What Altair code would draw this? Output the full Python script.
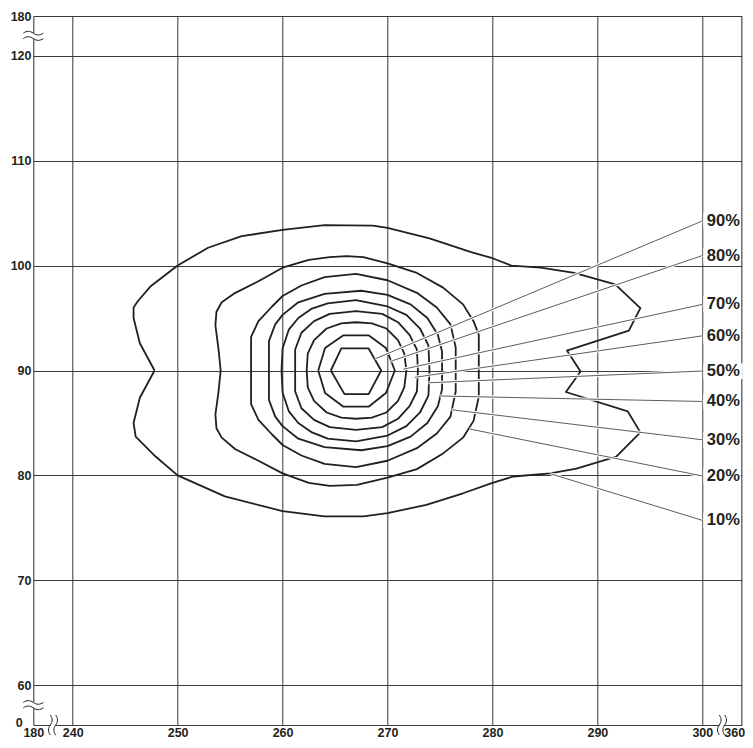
import altair as alt
import pandas as pd

# ---------------- data ----------------
X_DOMAIN = [180, 240, 300, 360]
Y_DOMAIN = [0, 60, 120, 180]
X_TICKS = [180, 240, 250, 260, 270, 280, 290, 300, 360]
Y_TICKS = [0, 60, 70, 80, 90, 100, 110, 120, 180]

# contour lines (closed), traced clockwise from the left crossing of y = 90
C10_X = [247.8, 246.4, 245.8, 245.8, 246.2, 247.4, 250.0, 252.9, 256.1, 260.0, 264.0, 268.6, 270.0,
         274.0, 277.9, 280.0, 281.8, 284.6, 287.8, 291.7, 294.1, 293.0, 287.1, 288.4, 287.0, 292.9,
         294.1, 291.8, 288.0, 285.5, 282.0, 280.0, 277.2, 273.7, 270.0, 267.7, 264.0, 260.0, 254.5,
         250.0, 247.9, 246.0, 245.8, 246.4, 247.8]
C10_Y = [90.0, 92.6, 95.0, 96.0, 96.6, 98.0, 100.0, 101.7, 102.8, 103.4, 103.85, 103.8, 103.6,
         102.6, 101.3, 100.7, 100.0, 99.8, 99.3, 98.2, 95.95, 93.8, 91.9, 89.9, 87.95, 86.1,
         84.1, 81.8, 80.65, 80.2, 79.9, 79.3, 78.3, 77.2, 76.4, 76.1, 76.1, 76.6, 78.0,
         80.0, 81.8, 83.7, 85.0, 87.4, 90.0]

C20_X = [254.1, 253.9, 253.6, 253.7, 254.2, 255.5, 257.7, 260.0, 262.5, 264.5, 266.1, 267.7, 270.0,
         272.8, 275.3, 277.2, 278.2, 278.7, 278.7, 278.2, 277.2, 275.3, 272.8, 270.0, 267.1, 264.5,
         262.5, 260.0, 257.7, 255.5, 254.2, 253.7, 253.6, 253.9, 254.1]
C20_Y = [90.0, 92.0, 94.3, 95.6, 96.5, 97.4, 98.5, 99.8, 100.55, 100.8, 100.9, 100.8, 100.2,
         99.3, 97.9, 96.3, 94.7, 93.4, 87.5, 85.2, 83.6, 82.1, 80.6, 79.8, 79.1, 79.0,
         79.3, 80.2, 81.4, 82.5, 83.6, 84.5, 85.8, 88.0, 90.0]

C30_X = [257.0, 257.0, 257.7, 259.0, 260.0, 261.8, 264.0, 267.0, 270.0, 272.8, 274.7, 276.0, 276.5,
         276.5, 276.0, 274.7, 272.8, 270.0, 267.0, 264.0, 261.8, 260.0, 259.0, 257.7, 257.0, 257.0]
C30_Y = [90.0, 93.2, 94.7, 96.1, 97.1, 98.1, 98.9, 99.2, 98.6, 97.4, 96.0, 94.4, 92.2,
         88.0, 85.6, 84.0, 82.6, 81.4, 80.8, 81.1, 81.9, 82.9, 83.9, 85.3, 86.8, 90.0]

C40_X = [258.7, 258.7, 259.3, 260.0, 261.5, 264.0, 267.5, 270.0, 272.2, 273.8, 274.8, 275.2,
         275.2, 274.8, 273.8, 272.2, 270.0, 267.5, 264.0, 261.5, 260.0, 259.3, 258.7, 258.7]
C40_Y = [90.0, 92.8, 94.4, 95.3, 96.5, 97.3, 97.6, 97.2, 96.3, 95.0, 93.4, 91.8,
         88.2, 86.6, 85.0, 83.7, 82.8, 82.4, 82.7, 83.5, 84.7, 85.6, 87.2, 90.0]

C50_X = [259.9, 260.0, 260.6, 261.5, 262.8, 264.3, 267.0, 270.0, 271.8, 273.1, 273.9, 274.0,
         273.9, 273.1, 271.8, 270.0, 267.0, 264.3, 262.8, 261.5, 260.6, 260.0, 259.9]
C50_Y = [90.0, 92.1, 93.9, 95.0, 95.9, 96.4, 96.7, 96.1, 95.3, 94.0, 92.4, 90.0,
         87.6, 86.0, 84.7, 83.8, 83.25, 83.5, 84.1, 85.0, 86.1, 87.9, 90.0]

C60_X = [261.2, 261.2, 261.8, 263.0, 264.5, 267.0, 269.5, 271.0, 272.1, 272.8, 272.9,
         272.8, 272.1, 271.0, 269.5, 267.0, 264.5, 263.0, 261.8, 261.2, 261.2]
C60_Y = [90.0, 92.0, 93.6, 94.7, 95.4, 95.65, 95.4, 94.6, 93.4, 92.0, 90.0,
         88.0, 86.6, 85.4, 84.6, 84.35, 84.6, 85.3, 86.4, 88.0, 90.0]

C70_X = [262.3, 262.4, 263.0, 264.2, 265.6, 267.0, 268.5, 269.9, 271.0, 271.6, 271.8,
         271.6, 271.0, 269.9, 268.5, 267.0, 265.6, 264.2, 263.0, 262.4, 262.3]
C70_Y = [90.0, 91.6, 92.9, 94.0, 94.5, 94.6, 94.5, 94.0, 92.9, 91.6, 90.0,
         88.4, 87.1, 86.0, 85.5, 85.4, 85.5, 86.0, 87.1, 88.4, 90.0]

C80_X = [263.4, 264.05, 265.8, 268.2, 269.85, 270.7, 269.85, 268.2, 265.8, 264.05, 263.4]
C80_Y = [90.0, 92.15, 93.35, 93.35, 92.15, 90.0, 87.85, 86.55, 86.55, 87.85, 90.0]

C90_X = [264.6, 265.6, 268.2, 269.4, 268.2, 265.9, 264.6]
C90_Y = [90.0, 92.1, 92.1, 90.0, 87.75, 87.75, 90.0]

# labels and leader lines
LABELS = ["90%", "80%", "70%", "60%", "50%", "40%", "30%", "20%", "10%"]
LEADER_X = [268.8, 270.3, 271.5, 272.6, 273.9, 275.0, 276.1, 277.8, 285.5]
LEADER_Y = [91.1, 90.87, 90.12, 89.35, 88.83, 87.57, 86.26, 84.43, 80.17]
LABEL_Y = [104.25, 100.95, 96.3, 93.3, 89.95, 87.05, 83.4, 79.95, 75.72]
LABEL_X = 300

# axis-break marks (positions inside the compressed axis ranges)
YBREAK_Y = [150, 30]
XBREAK_X = [210, 330]

# ---------------- styling ----------------
INK = "#231f20"
GRID = "#3a3a3a"
FONT = "Liberation Sans"

contours = {
    "10%": (C10_X, C10_Y), "20%": (C20_X, C20_Y), "30%": (C30_X, C30_Y),
    "40%": (C40_X, C40_Y), "50%": (C50_X, C50_Y), "60%": (C60_X, C60_Y),
    "70%": (C70_X, C70_Y), "80%": (C80_X, C80_Y), "90%": (C90_X, C90_Y),
}
rows = []
for lvl, (xs_, ys_) in contours.items():
    for i, (xv, yv) in enumerate(zip(xs_, ys_)):
        rows.append({"level": lvl, "i": i, "x": xv, "y": yv})
df_c = pd.DataFrame(rows)

df_lead = pd.DataFrame({
    "label": LABELS, "x": LEADER_X, "y": LEADER_Y,
    "x2": [LABEL_X] * len(LABELS), "y2": LABEL_Y,
})
bg_right = [361.5 if l == "50%" else 358.6 for l in LABELS]
df_lab = pd.DataFrame({
    "label": LABELS, "x": [LABEL_X] * len(LABELS), "y": LABEL_Y,
    "bx": [301.5] * len(LABELS), "bx2": bg_right,
    "by": [v - 0.75 for v in LABEL_Y], "by2": [v + 0.75 for v in LABEL_Y],
})
df_yb = pd.DataFrame({"x": [180] * len(YBREAK_Y), "y": YBREAK_Y})
df_xb = pd.DataFrame({"x": XBREAK_X, "y": [0] * len(XBREAK_X)})

xscale = alt.Scale(domain=X_DOMAIN, range=[0, 39.4, 669.0, 708.4], nice=False, zero=False)
yscale = alt.Scale(domain=Y_DOMAIN, range=[709, 669.3, 39.7, 0], nice=False, zero=False)

common = dict(grid=True, domain=False, ticks=False, labelFont=FONT, labelFontWeight="bold",
              labelFontSize=12.5, labelColor=INK, labelOverlap=False, labelFlush=False,
              gridColor=GRID, gridWidth=1, gridOpacity=1, title=None)
x_axis = alt.Axis(
    values=X_TICKS, labelPadding=1.5,
    labelAlign={"condition": {"test": "datum.value === 360", "value": "right"}, "value": "center"},
    labelOffset={"condition": {"test": "datum.value === 360", "value": 3}, "value": 0},
    **common)
y_axis = alt.Axis(
    values=Y_TICKS,
    labelPadding={"condition": {"test": "datum.value === 0", "value": 11}, "value": 2.3},
    labelOffset={"condition": {"test": "datum.value === 0", "value": -3}, "value": 0},
    **common)


def X(field="x"):
    return alt.X(f"{field}:Q", scale=xscale, axis=x_axis)


def Y(field="y"):
    return alt.Y(f"{field}:Q", scale=yscale, axis=y_axis)


contour_layer = alt.Chart(df_c).mark_line(
    color=INK, strokeWidth=1.8, strokeJoin="round"
).encode(x=X(), y=Y(), detail="level:N", order="i:Q")

lead_casing = alt.Chart(df_lead).mark_rule(color="white", strokeWidth=3).encode(
    x=X(), y=Y(), x2="x2:Q", y2="y2:Q")
lead_line = alt.Chart(df_lead).mark_rule(color="#333333", strokeWidth=0.8).encode(
    x=X(), y=Y(), x2="x2:Q", y2="y2:Q")

label_bg = alt.Chart(df_lab).mark_rect(color="white").encode(
    x=X("bx"), x2="bx2:Q", y=Y("by"), y2="by2:Q")
label_txt = alt.Chart(df_lab).mark_text(
    align="left", baseline="middle", dx=4.5, font=FONT, fontWeight="bold",
    fontSize=16.5, color=INK
).encode(x=X(), y=Y(), text="label:N")

WAVES = ("M -1 -0.27 C -0.667 -0.51 -0.333 -0.51 0 -0.27 C 0.333 -0.03 0.667 -0.03 1 -0.27 "
         "M -1 0.27 C -0.667 0.03 -0.333 0.03 0 0.27 C 0.333 0.51 0.667 0.51 1 0.27")
PATCH = "M -0.2 -0.27 L 0.2 -0.27 L 0.2 0.27 L -0.2 0.27 Z"

yb_patch = alt.Chart(df_yb).mark_point(shape=PATCH, size=400, filled=True, color="white",
                                       opacity=1, strokeWidth=0).encode(x=X(), y=Y())
yb_wave = alt.Chart(df_yb).mark_point(shape=WAVES, size=400, filled=False, color=INK,
                                      opacity=1, strokeWidth=1).encode(x=X(), y=Y())
xb_patch = alt.Chart(df_xb).mark_point(shape=PATCH, size=400, filled=True, color="white",
                                       opacity=1, strokeWidth=0, angle=90).encode(x=X(), y=Y())
xb_wave = alt.Chart(df_xb).mark_point(shape=WAVES, size=400, filled=False, color=INK,
                                      opacity=1, strokeWidth=1, angle=90).encode(x=X(), y=Y())

chart = alt.layer(
    contour_layer, lead_casing, lead_line, label_bg, label_txt,
    yb_patch, yb_wave, xb_patch, xb_wave
).properties(
    width=708.4, height=709,
    autosize=alt.AutoSizeParams(type="none"),
    padding={"left": 25.3, "top": 8, "right": 3.3, "bottom": 15},
).configure_view(stroke=None).configure(background="white")

chart.save("out.html", embed_options={"renderer": "svg", "actions": False})
